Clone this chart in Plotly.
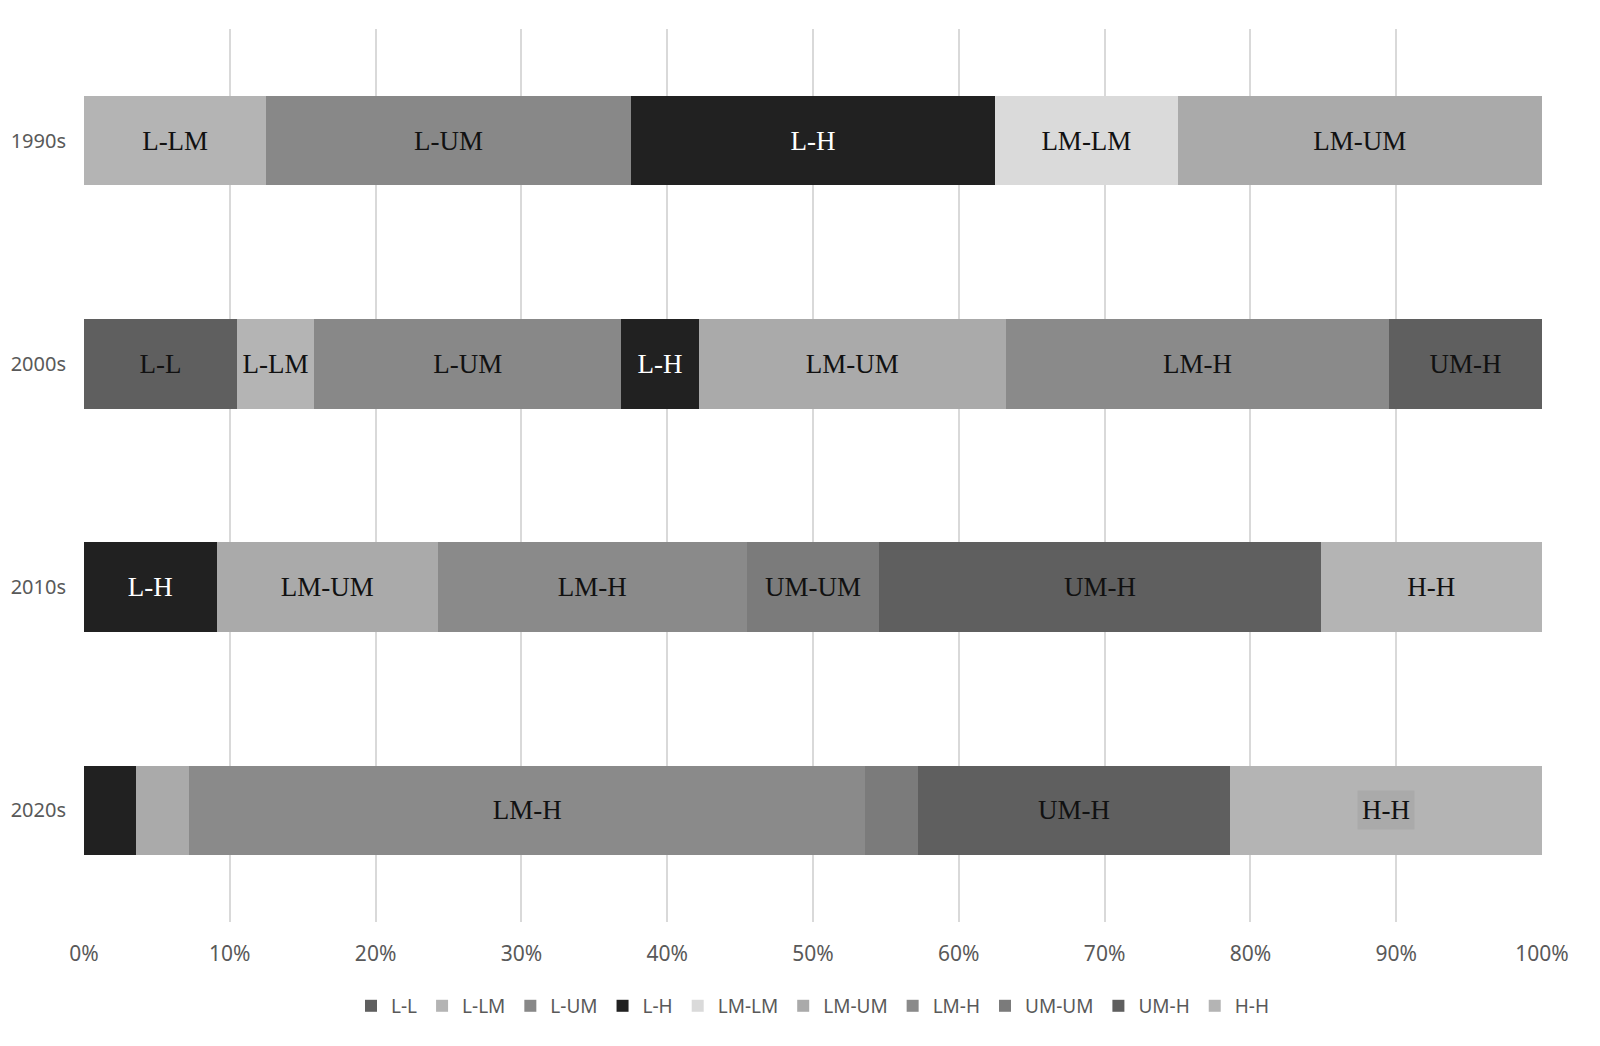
import plotly.graph_objects as go

decades = ["1990s", "2000s", "2010s", "2020s"]
categories = ["L-L", "L-LM", "L-UM", "L-H", "LM-LM", "LM-UM", "LM-H", "UM-UM", "UM-H", "H-H"]

# share of each category per decade (percent), in order of decades
shares = {
    "L-L":   [0,    10.5, 0,    0],
    "L-LM":  [12.5, 5.3,  0,    0],
    "L-UM":  [25.0, 21.1, 0,    0],
    "L-H":   [25.0, 5.3,  9.1,  3.6],
    "LM-LM": [12.5, 0,    0,    0],
    "LM-UM": [25.0, 21.1, 15.2, 3.6],
    "LM-H":  [0,    26.3, 21.2, 46.4],
    "UM-UM": [0,    0,    9.1,  3.6],
    "UM-H":  [0,    10.5, 30.3, 21.4],
    "H-H":   [0,    0,    15.2, 21.4],
}

# which segments carry an in-bar label
labelled = {
    "L-L":   [False, True, False, False],
    "L-LM":  [True, True, False, False],
    "L-UM":  [True, True, False, False],
    "L-H":   [True, True, True, False],
    "LM-LM": [True, False, False, False],
    "LM-UM": [True, True, True, False],
    "LM-H":  [False, True, True, True],
    "UM-UM": [False, False, True, False],
    "UM-H":  [False, True, True, True],
    "H-H":   [False, False, True, False],
}

colors = {
    "L-L": "#5f5f5f", "L-LM": "#b4b4b4", "L-UM": "#888888", "L-H": "#212121",
    "LM-LM": "#dadada", "LM-UM": "#aaaaaa", "LM-H": "#8a8a8a", "UM-UM": "#7b7b7b",
    "UM-H": "#5f5f5f", "H-H": "#b4b4b4",
}

fig = go.Figure()
for cat in categories:
    vals = shares[cat]
    texts = [cat if (lab and v > 0) else "" for lab, v in zip(labelled[cat], vals)]
    fig.add_trace(go.Bar(
        name=cat, y=decades, x=vals, orientation="h",
        marker=dict(color=colors[cat], line=dict(width=0)),
        text=texts, textposition="inside", insidetextanchor="middle",
        textangle=0, constraintext="none",
        textfont=dict(family="Liberation Serif", size=27,
                      color="#ffffff" if cat == "L-H" else "#111111"),
        hoverinfo="skip",
    ))

# highlighted label for H-H in the 2020s (drawn with a subtle box)
tot = sum(shares[c][3] for c in categories)
start = sum(shares[c][3] for c in categories[:categories.index("H-H")])
center = (start + shares["H-H"][3] / 2) / tot * 100
fig.add_annotation(x=center, y="2020s", text="H-H", showarrow=False,
                   font=dict(family="Liberation Serif", size=27, color="#111111"),
                   bgcolor="#aaaaaa", borderpad=4)

fig.update_layout(
    width=1592, height=1038,
    barmode="stack", barnorm="percent", bargap=0.6,
    plot_bgcolor="white", paper_bgcolor="white",
    margin=dict(l=76, r=58, t=21, b=124, autoexpand=False),
    font=dict(family="Noto Sans", color="#595959", size=19),
    legend=dict(orientation="h", x=0.5, xanchor="center", y=-0.094, yanchor="middle",
                font=dict(size=19, color="#595959"), traceorder="normal",
                itemclick=False),
    showlegend=True,
)
fig.update_xaxes(range=[0, 100], dtick=10, ticksuffix="%", showgrid=True,
                 gridcolor="#d9d9d9", gridwidth=1.5, zeroline=False,
                 showline=False, tickfont=dict(size=21, color="#595959"),
                 ticks="", ticklabelstandoff=17, automargin=False)
fig.update_yaxes(categoryorder="array", categoryarray=decades, autorange="reversed",
                 showgrid=False, showline=False, ticks="", automargin=False,
                 tickfont=dict(size=20, color="#595959"), ticklabelstandoff=17)

fig.write_html("out.html")
